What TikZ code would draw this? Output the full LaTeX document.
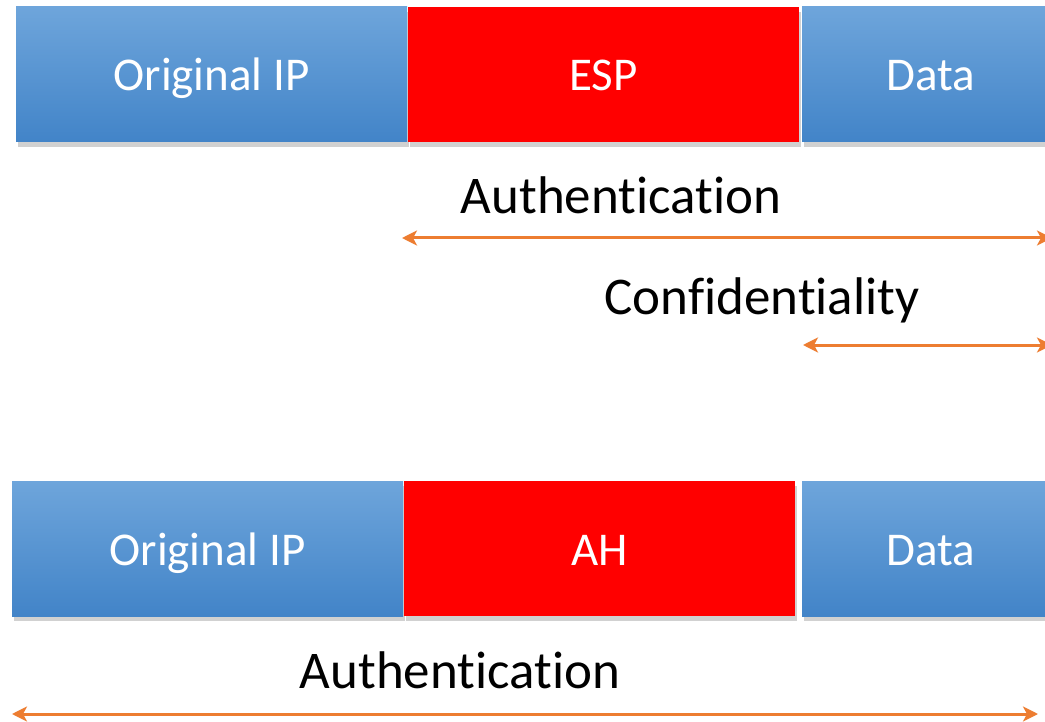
\documentclass[tikz,border=0pt]{standalone}
\usepackage{fontspec}
\setmainfont[RawFeature={-liga;-clig;-dlig}]{Carlito}
\usetikzlibrary{arrows.meta,shadows}
\definecolor{boxtop}{RGB}{110,165,219}
\definecolor{boxbot}{RGB}{66,132,200}
\definecolor{arrorange}{RGB}{237,125,49}
\tikzset{
  shadowed/.style={drop shadow={opacity=0.18, shadow xshift=1.5pt, shadow yshift=-5pt, fill=black}},
  bluebox/.style={rectangle, inner sep=0pt, minimum height=135pt, top color=boxtop, bottom color=boxbot,
    text=white, font=\fontsize{47}{50}\selectfont, text height=33pt, text depth=0pt, shadowed},
  redbox/.style={rectangle, inner sep=0pt, minimum height=135pt, fill=red,
    text=white, font=\fontsize{47}{50}\selectfont, text height=33pt, text depth=0pt, shadowed},
  lbl/.style={text=black, font=\fontsize{53}{56}\selectfont, inner sep=0pt},
  arr/.style={draw=arrorange, line width=3pt, {Stealth[length=15pt,width=15pt,inset=4pt]}-{Stealth[length=15pt,width=15pt,inset=4pt]}}
}
\begin{document}
\begin{tikzpicture}[x=1pt,y=1pt]
\useasboundingbox (0,0) rectangle (1045,-722);
\clip (0,0) rectangle (1045,-722);
\fill[white] (0,0) rectangle (1045,-722);
% top row
\node[bluebox, minimum width=391pt] (ip1) at (211.5,-74.5) {Original IP};
\node[redbox, minimum width=391pt] (esp) at (603.5,-74.5) {ESP};
\node[bluebox, minimum width=258pt] (data1) at (931,-74.5) {Data};
% bottom row
\node[bluebox, minimum width=391pt] (ip2) at (207.5,-548.5) {Original IP};
\node[redbox, minimum width=391pt] (ah) at (599.5,-548.5) {AH};
\node[bluebox, minimum width=258pt] (data2) at (931,-548.5) {Data};
% labels
\node[lbl] (auth1) at (621,-195) {Authentication};
\node[lbl] (conf) at (762,-300) {Confidentiality};
\node[lbl] (auth2) at (460,-670) {Authentication};
% arrows
\coordinate (a1l) at (402,-238);
\coordinate (a1r) at (1052,-238);
\coordinate (c1l) at (803,-345);
\coordinate (c1r) at (1052,-345);
\coordinate (a2l) at (12,-714);
\coordinate (a2r) at (1038,-714);
\draw[arr] (a1l) -- (a1r);
\draw[arr] (c1l) -- (c1r);
\draw[arr] (a2l) -- (a2r);
\end{tikzpicture}
\end{document}
